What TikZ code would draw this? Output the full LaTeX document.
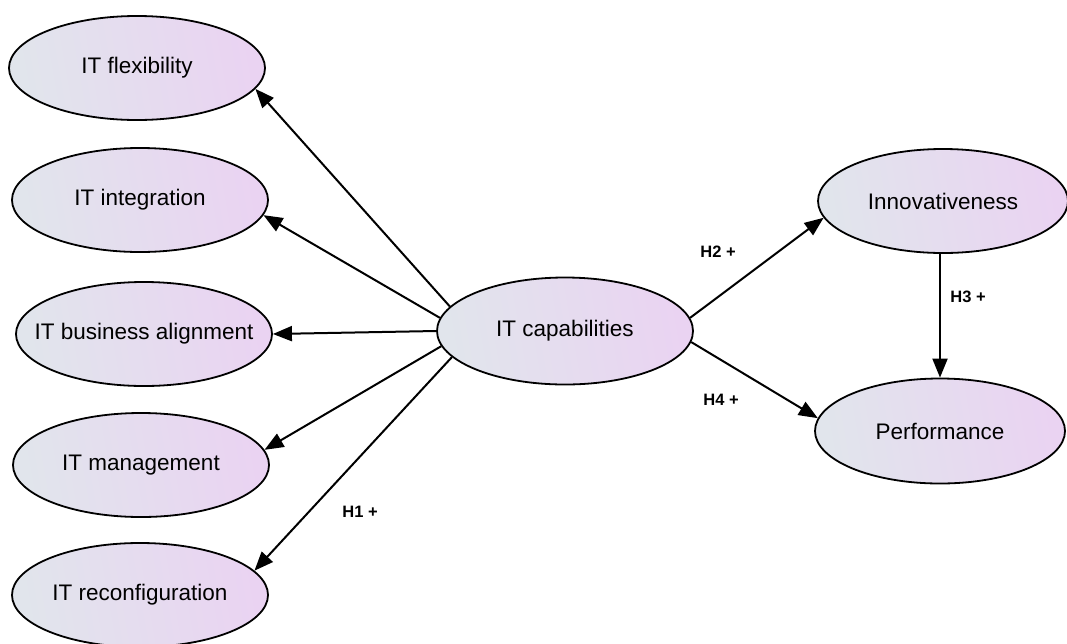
\documentclass[tikz,border=0pt]{standalone}
\usepackage{fontspec}
\setmainfont{Liberation Sans}
\usetikzlibrary{arrows.meta,shapes.geometric}
\definecolor{shadeL}{HTML}{E1E5EC}
\definecolor{shadeR}{HTML}{EAD3F2}
\newcommand{\ctext}[1]{\makebox[0pt]{#1}}
\tikzset{
  construct/.style={ellipse, draw=black, line width=1.8pt, inner sep=0pt,
    minimum width=256pt, minimum height=104pt,
    left color=shadeL, right color=shadeR, shading angle=100,
    font=\fontsize{22.5}{26}\selectfont, text=black},
  link/.style={line width=2pt, -{Triangle[length=19pt,width=15pt]}},
  hyp/.style={font=\fontsize{16.5}{19}\selectfont\bfseries, inner sep=0pt}
}
\begin{document}
\begin{tikzpicture}[x=1pt,y=-1pt]
\useasboundingbox (0,0) rectangle (1067,643);
\node[construct] (flex)   at (137,68)  {\ctext{IT flexibility}};
\node[construct] (integ)  at (140,200) {\ctext{IT integration}};
\node[construct] (align)  at (144,334) {\ctext{IT business alignment}};
\node[construct] (mgmt)   at (141,465) {\ctext{IT management}};
\node[construct] (reconf) at (140,595) {\ctext{IT reconfiguration}};
\node[construct, minimum height=107pt] (cap) at (565,331) {\ctext{IT capabilities}};
\node[construct, minimum width=250pt] (innov) at (943,201) {\ctext{Innovativeness}};
\node[construct, minimum width=250pt, minimum height=105pt] (perf) at (940,431) {\ctext{Performance}};

\draw[link] (cap.168) -- (flex.-10);
\draw[link] (cap.174) -- (integ.-7);
\draw[link] (cap.180) -- (align.0);
\draw[link] (cap.187) -- (mgmt.7);
\draw[link] (cap.193) -- (reconf.12.5);
\draw[link] (cap.6.5) -- (innov.188);
\draw[link] (cap.-5) -- (perf.174);
\draw[link] (perf.north |- innov.south) -- (perf.north);

\node[hyp] (h1) at (360,512) {H1 +};
\node[hyp] (h2) at (718,252) {H2 +};
\node[hyp] (h3) at (968,297) {H3 +};
\node[hyp] (h4) at (721,400) {H4 +};
\end{tikzpicture}
\end{document}
